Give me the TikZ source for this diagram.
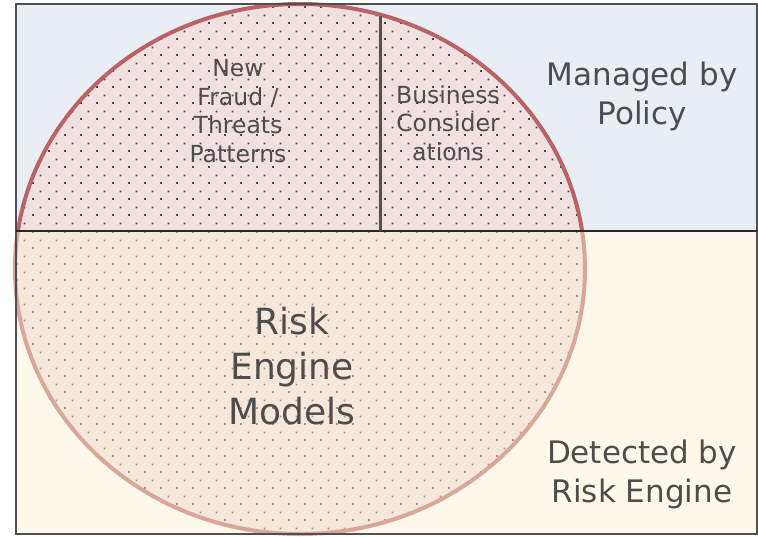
\documentclass[tikz,border=0pt]{standalone}
\usepackage{fontspec}
\setmainfont{DejaVu Sans}
\usetikzlibrary{patterns.meta}

\definecolor{policybg}{HTML}{E8EEF3}
\definecolor{enginebg}{HTML}{FEF8EA}
\definecolor{policyfill}{HTML}{F0E0E0}
\definecolor{enginefill}{HTML}{F5E7DA}
\definecolor{policyedge}{HTML}{B86466}
\definecolor{engineedge}{HTML}{D9A797}
\definecolor{policydot}{HTML}{4A4545}
\definecolor{enginedot}{HTML}{A09888}
\definecolor{labelgrey}{HTML}{4D4D4D}
\definecolor{framegrey}{HTML}{505050}

% staggered dot grid for the ellipse
\tikzdeclarepattern{
  name=riskdots,
  type=uncolored,
  bounding box={(0pt,0pt) and (16pt,16pt)},
  tile size={(16pt,16pt)},
  code={
    \fill (0pt,0pt) rectangle (2pt,2pt);
    \fill (8pt,8pt) rectangle (10pt,10pt);
  }
}

\begin{document}
\begin{tikzpicture}[x=1pt,y=-1pt,
    label/.style={text=labelgrey, align=center, inner sep=0pt},
    small/.style={label, font=\fontsize{23.5}{28.5}\selectfont},
    side/.style={label, font=\fontsize{31}{39}\selectfont},
    big/.style={label, font=\fontsize{36}{45}\selectfont}]

    \useasboundingbox (0,0) rectangle (758,536);

    \fill[policybg] (16,4) rectangle (757,231); % Managed by policy band
    \fill[enginebg] (16,231) rectangle (757,534); % Detected by engine band

    % Top half of the ellipse
    \begin{scope}
        \clip (0,0) rectangle (758,231);
        \fill[policyfill] (300,269) ellipse (285 and 265);
        \fill[pattern=riskdots, pattern color=policydot] (300,269) ellipse (285 and 265);
        \draw[policyedge, line width=4pt] (300,269) ellipse (285 and 265);
    \end{scope}

    % Bottom half of the ellipse
    \begin{scope}
        \clip (0,231) rectangle (758,536);
        \fill[enginefill] (300,269) ellipse (285 and 265);
        \fill[pattern=riskdots, pattern color=enginedot] (300,269) ellipse (285 and 265);
        \draw[engineedge, line width=4pt] (300,269) ellipse (285 and 265);
    \end{scope}

    \draw[framegrey, line width=2pt] (16,4) rectangle (757,534); % Outline
    \draw[black!85, line width=2pt] (16,231) -- (757,231); % Band divider
    \draw[framegrey, line width=3pt] (380,16) -- (380,231); % Split of top half

    % Labels
    \node[small] (fraud) at (238,111) {New\\Fraud /\\Threats\\Patterns};
    \node[small] (business) at (448,123) {Business\\Consider\\ations};
    \node[side] (policy) at (642,96) {Managed by\\Policy};
    \node[big] (models) at (292,366.5) {Risk\\Engine\\Models};
    \node[side] (detected) at (642,474.5) {Detected by\\Risk Engine};

\end{tikzpicture}
\end{document}
